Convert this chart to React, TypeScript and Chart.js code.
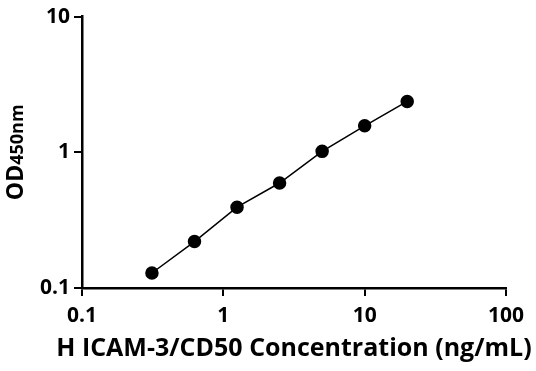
import React, { useEffect, useRef } from "react";
import { Chart, registerables } from "chart.js";

Chart.register(...registerables);

const concentrations = [0.3125, 0.625, 1.25, 2.5, 5, 10, 20];
const odValues = [0.129, 0.22, 0.394, 0.594, 1.016, 1.567, 2.37];
const xTicks = [0.1, 1, 10, 100];
const yTicks = [0.1, 1, 10];
const xTitle = "H ICAM-3/CD50 Concentration (ng/mL)";
const yTitleMain = "OD";
const yTitleSub = "450nm";

const FONT = "'Open Sans', 'DejaVu Sans', sans-serif";

const titlesPlugin = {
  id: "customTitles",
  afterDraw(chart: any) {
    const ctx = chart.ctx;
    const area = chart.chartArea;
    ctx.save();
    ctx.fillStyle = "#000";
    ctx.font = `bold 25px ${FONT}`;
    ctx.textAlign = "center";
    ctx.textBaseline = "alphabetic";
    ctx.fillText(xTitle, (area.left + area.right) / 2, 356);

    // y title rotated
    ctx.translate(23, (area.top + area.bottom) / 2);
    ctx.rotate(-Math.PI / 2);
    ctx.textAlign = "left";
    ctx.font = `bold 23px ${FONT}`;
    const w1 = ctx.measureText(yTitleMain).width;
    ctx.font = `bold 18px ${FONT}`;
    const w2 = ctx.measureText(yTitleSub).width;
    const start = -(w1 + w2) / 2;
    ctx.font = `bold 23px ${FONT}`;
    ctx.fillText(yTitleMain, start, 0);
    ctx.font = `bold 18px ${FONT}`;
    ctx.fillText(yTitleSub, start + w1, 0);
    ctx.restore();
  },
};

export default function App() {
  const ref = useRef<HTMLCanvasElement>(null);
  useEffect(() => {
    if (!ref.current) return;
    const chart = new Chart(ref.current, {
      type: "line",
      data: {
        datasets: [
          {
            data: concentrations.map((x, i) => ({ x, y: odValues[i] })),
            borderColor: "#000",
            backgroundColor: "#000",
            borderWidth: 1.5,
            pointRadius: 6,
            pointBackgroundColor: "#000",
            pointBorderColor: "#000",
            tension: 0,
          },
        ],
      },
      options: {
        animation: false,
        responsive: false,
        maintainAspectRatio: false,
        layout: { padding: { top: 14, right: 30, left: 0, bottom: 0 } },
        plugins: { legend: { display: false }, tooltip: { enabled: false } },
        scales: {
          x: {
            type: "logarithmic",
            min: 0.1,
            max: 100,
            afterBuildTicks: (s: any) => {
              s.ticks = xTicks.map((v) => ({ value: v }));
            },
            afterFit: (s: any) => {
              s.height = 83;
            },
            grid: {
              drawOnChartArea: false,
              drawTicks: true,
              tickLength: 8,
              color: "#000",
              lineWidth: 2,
            },
            border: { display: true, color: "#000", width: 2.5 },
            ticks: {
              color: "#000",
              font: { family: FONT, size: 21, weight: "bold" },
              padding: 7,
              maxRotation: 0,
              autoSkip: false,
              callback: (v: any) => String(v),
            },
          },
          y: {
            type: "logarithmic",
            min: 0.1,
            max: 10,
            afterBuildTicks: (s: any) => {
              s.ticks = yTicks.map((v) => ({ value: v }));
            },
            afterFit: (s: any) => {
              s.width = 82;
            },
            grid: {
              drawOnChartArea: false,
              drawTicks: true,
              tickLength: 8,
              color: "#000",
              lineWidth: 2,
            },
            border: { display: true, color: "#000", width: 2.5 },
            ticks: {
              color: "#000",
              font: { family: FONT, size: 21, weight: "bold" },
              padding: 4,
              autoSkip: false,
              callback: (v: any) => String(v),
            },
          },
        },
      },
      plugins: [titlesPlugin],
    } as any);
    return () => chart.destroy();
  }, []);
  return (
    <div style={{ position: "fixed", left: 0, top: 0, width: 536, height: 371, background: "#fff" }}>
      <canvas ref={ref} width={536} height={371} style={{ display: "block" }} />
    </div>
  );
}
